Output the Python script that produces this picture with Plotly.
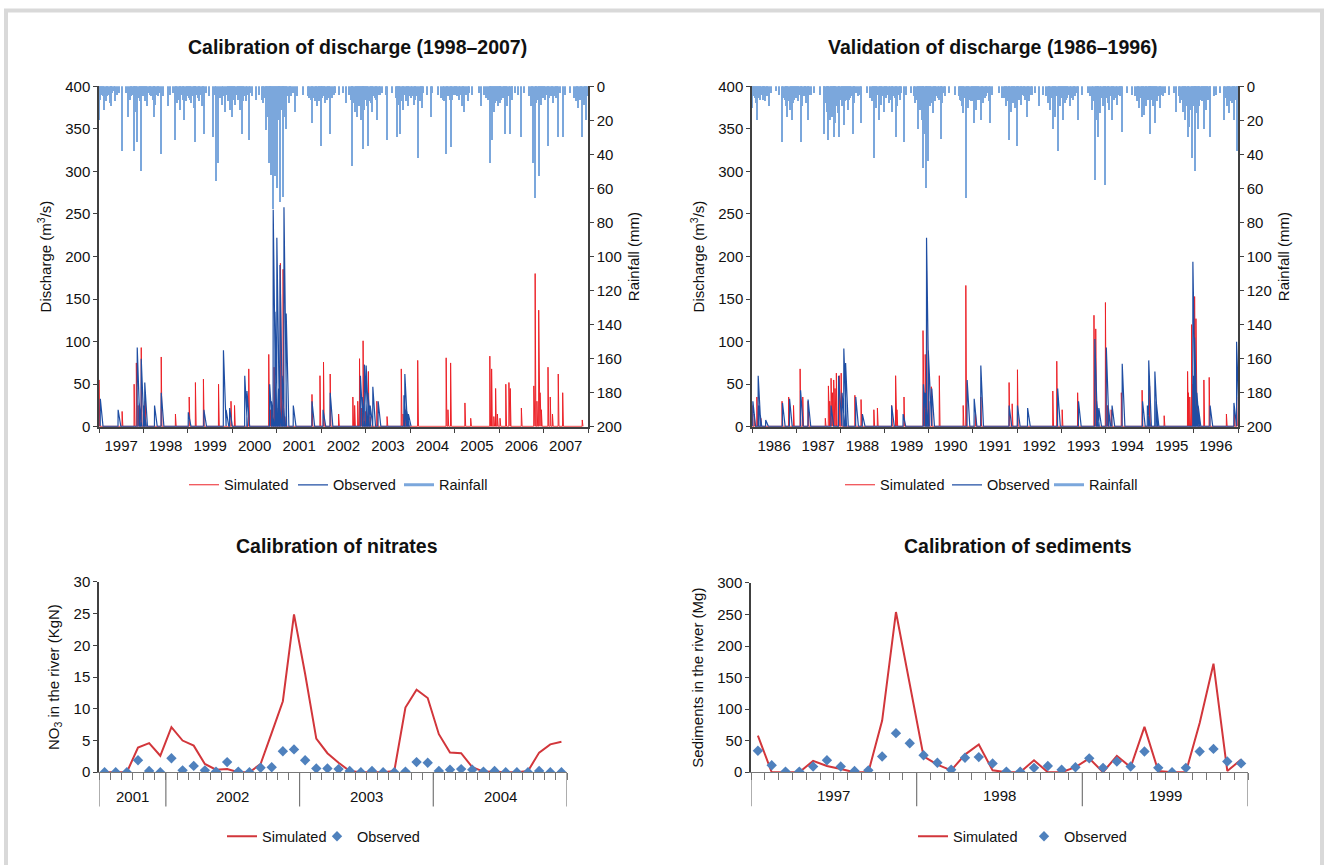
import pandas as pd
import plotly.graph_objects as go

# ---------------- DATA ----------------
# Calibration of discharge (decimal year, m3/s)
cal_obs_year = [1997.03, 1997.43, 1997.86, 1997.90, 1997.95, 1998.00, 1998.03, 1998.25, 1998.40, 1999.01,
                1999.36, 1999.80, 1999.86, 1999.94, 2000.28, 2000.33, 2000.84, 2000.88, 2000.92, 2000.96,
                2001.00, 2001.04, 2001.07, 2001.12, 2001.16, 2001.21, 2001.37, 2001.79, 2002.04, 2002.20,
                2002.88, 2002.92, 2002.97, 2003.01, 2003.05, 2003.10, 2003.16, 2003.28, 2003.86, 2003.88,
                2003.92, 2003.96]
cal_obs_q = [33, 20, 93, 30, 80, 25, 52, 25, 40, 17,
             20, 90, 20, 22, 60, 42, 50, 30, 255, 135,
             222, 45, 190, 60, 258, 133, 25, 30, 20, 40,
             60, 35, 73, 72, 40, 25, 47, 30, 37, 62,
             20, 15]
cal_sim_year = [1997.00, 1997.52, 1997.79, 1997.84, 1997.88, 1997.91, 1997.95, 1998.04, 1998.40, 1998.72,
                1999.03, 1999.17, 1999.35, 1999.69, 1999.97, 2000.05, 2000.37, 2000.82, 2000.86, 2000.90,
                2000.94, 2000.98, 2001.03, 2001.08, 2001.11, 2001.14, 2001.18, 2001.79, 2001.97, 2002.05,
                2002.20, 2002.39, 2002.71, 2002.75, 2002.82, 2002.86, 2002.90, 2002.94, 2003.00, 2003.06,
                2003.10, 2003.25, 2003.48, 2003.80, 2003.84, 2003.90, 2004.17, 2004.81, 2004.85, 2004.91,
                2005.23, 2005.36, 2005.79, 2005.83, 2005.88, 2005.92, 2005.96, 2006.02, 2006.15, 2006.22,
                2006.25, 2006.50, 2006.78, 2006.81, 2006.85, 2006.89, 2006.92, 2006.95, 2007.10, 2007.15,
                2007.20, 2007.33, 2007.43, 2007.87]
cal_sim_q = [55, 18, 50, 75, 25, 20, 93, 30, 82, 15,
             35, 52, 56, 50, 30, 25, 68, 85, 20, 25,
             70, 18, 22, 192, 15, 185, 12, 38, 60, 76,
             62, 15, 35, 25, 30, 80, 22, 101, 18, 65,
             12, 30, 12, 68, 15, 20, 78, 81, 20, 75,
             28, 10, 83, 68, 12, 45, 15, 10, 50, 52,
             45, 22, 48, 180, 30, 137, 40, 20, 70, 35,
             15, 62, 40, 8]
# main rain events
cal_rain_year = [1997.00, 1997.26, 1997.52, 1997.65, 1997.79, 1997.86, 1997.94, 1998.23, 1998.40, 1998.55,
                 1998.71, 1998.92, 1999.17, 1999.36, 1999.57, 1999.64, 1999.68, 1999.99, 2000.22, 2000.37,
                 2000.54, 2000.77, 2000.83, 2000.88, 2000.92, 2000.96, 2001.00, 2001.08, 2001.14, 2001.21,
                 2001.42, 2001.79, 2002.00, 2002.20, 2002.55, 2002.69, 2002.80, 2002.94, 2003.06, 2003.25,
                 2003.47, 2003.70, 2003.78, 2004.17, 2004.47, 2004.80, 2004.91, 2005.21, 2005.60, 2005.79,
                 2005.85, 2006.13, 2006.24, 2006.50, 2006.76, 2006.80, 2006.89, 2007.10, 2007.33, 2007.43,
                 2007.87, 2007.96,
                 1997.02, 1997.07, 1997.12, 1997.18, 1997.24, 1997.30, 1997.36, 1997.72, 1997.78, 1997.83, 1997.89, 1997.98,
                 1998.04, 1998.09, 1998.15, 1998.21, 1998.27, 1998.33, 1998.76, 1998.82, 1998.88, 1998.97,
                 1999.03, 1999.08, 1999.14, 1999.19, 1999.25, 1999.31, 1999.77, 1999.84, 1999.90, 1999.95,
                 2000.02, 2000.07, 2000.13, 2000.18, 2000.30, 2000.70, 2000.75, 2000.79, 2000.86, 2000.94,
                 2001.02, 2001.06, 2001.11, 2001.17, 2001.27, 2001.33, 2001.73, 2001.85, 2001.91, 2001.96,
                 2002.03, 2002.09, 2002.15, 2002.28, 2002.70, 2002.75, 2002.85, 2002.89, 2002.97,
                 2003.03, 2003.09, 2003.14, 2003.20, 2003.32, 2003.72, 2003.84, 2003.90, 2003.95,
                 2004.02, 2004.08, 2004.14, 2004.22, 2004.27, 2004.74, 2004.86, 2004.95,
                 2005.03, 2005.09, 2005.16, 2005.29, 2005.71, 2005.82, 2005.88, 2005.93, 2005.97,
                 2006.03, 2006.08, 2006.18, 2006.30, 2006.72, 2006.84, 2006.94, 2006.98,
                 2007.04, 2007.16, 2007.22, 2007.28, 2007.72, 2007.78, 2007.84, 2007.91]
cal_rain_mm = [20, 12, 38, 18, 38, 33, 50, 18, 40, 12,
               32, 20, 33, 28, 30, 56, 45, 18, 28, 32,
               8, 26, 45, 52, 72, 53, 60, 68, 65, 25,
               15, 22, 35, 28, 10, 47, 18, 37, 28, 20,
               32, 30, 28, 37, 18, 40, 36, 15, 12, 45,
               32, 28, 28, 30, 45, 66, 53, 35, 30, 30,
               25, 20,
               8, 5, 14, 6, 10, 4, 9, 6, 12, 15, 7, 6,
               9, 12, 5, 8, 11, 6, 10, 14, 8, 6,
               7, 10, 13, 5, 9, 12, 11, 15, 9, 14,
               6, 11, 8, 14, 9, 10, 14, 18, 22, 24,
               15, 20, 12, 18, 10, 6, 7, 9, 12, 8,
               6, 10, 7, 5, 9, 15, 12, 20, 14,
               12, 9, 15, 7, 5, 11, 14, 9, 12,
               7, 11, 6, 9, 13, 8, 6, 8,
               5, 8, 12, 9, 7, 10, 15, 9, 12,
               10, 7, 12, 8, 12, 10, 11, 7,
               8, 6, 10, 7, 9, 13, 7, 11]
# light rain days
cal_light_year = [1997.05, 1997.10, 1997.15, 1997.21, 1997.27, 1997.33, 1997.40, 1997.46, 1997.60, 1997.69, 1997.75, 1997.81, 1997.92, 1997.96,
                  1998.01, 1998.06, 1998.12, 1998.18, 1998.24, 1998.30, 1998.36, 1998.45, 1998.60, 1998.66, 1998.74, 1998.79, 1998.85, 1998.90, 1998.95,
                  1999.01, 1999.05, 1999.11, 1999.16, 1999.22, 1999.28, 1999.34, 1999.40, 1999.48, 1999.62, 1999.72, 1999.80, 1999.87, 1999.92, 1999.97,
                  2000.04, 2000.10, 2000.15, 2000.20, 2000.25, 2000.27, 2000.33, 2000.40, 2000.45, 2000.60, 2000.66, 2000.72, 2000.81, 2000.85, 2000.90, 2000.98,
                  2001.04, 2001.09, 2001.13, 2001.19, 2001.24, 2001.30, 2001.36, 2001.45, 2001.60, 2001.70, 2001.76, 2001.82, 2001.88, 2001.94, 2001.99,
                  2002.01, 2002.06, 2002.12, 2002.18, 2002.25, 2002.31, 2002.40, 2002.48, 2002.62, 2002.67, 2002.72, 2002.78, 2002.83, 2002.87, 2002.91, 2002.95, 2002.99,
                  2003.01, 2003.06, 2003.11, 2003.17, 2003.23, 2003.29, 2003.36, 2003.45, 2003.60, 2003.68, 2003.75, 2003.81, 2003.87, 2003.93, 2003.98,
                  2004.05, 2004.11, 2004.17, 2004.25, 2004.30, 2004.38, 2004.50, 2004.62, 2004.70, 2004.77, 2004.83, 2004.89, 2004.99,
                  2005.01, 2005.06, 2005.12, 2005.19, 2005.25, 2005.32, 2005.40, 2005.55, 2005.65, 2005.74, 2005.80, 2005.86, 2005.90, 2005.95, 2005.99,
                  2006.01, 2006.05, 2006.11, 2006.16, 2006.22, 2006.28, 2006.35, 2006.42, 2006.55, 2006.68, 2006.74, 2006.82, 2006.87, 2006.92, 2006.96,
                  2007.01, 2007.07, 2007.13, 2007.19, 2007.25, 2007.31, 2007.38, 2007.48, 2007.60, 2007.69, 2007.75, 2007.81, 2007.87, 2007.93, 2007.98]
cal_light_mm = [4, 6, 9, 5, 7, 3, 5, 4, 4, 8, 5, 7, 9, 5,
                5, 7, 4, 6, 9, 5, 4, 6, 5, 4, 6, 8, 5, 7, 9,
                5, 8, 6, 4, 7, 5, 9, 4, 6, 5, 7, 6, 5, 8, 6,
                8, 5, 7, 4, 9, 6, 5, 4, 6, 5, 8, 7, 12, 15, 20, 12,
                10, 14, 8, 9, 6, 5, 4, 6, 5, 6, 8, 7, 6, 9, 5,
                7, 6, 8, 5, 7, 4, 5, 4, 5, 8, 10, 12, 9, 11, 8, 10, 7,
                8, 7, 10, 6, 8, 5, 4, 5, 4, 7, 6, 9, 5, 8, 6,
                6, 8, 5, 7, 4, 5, 4, 5, 7, 9, 6, 8, 5,
                4, 6, 5, 7, 5, 4, 5, 4, 5, 8, 9, 7, 10, 6, 7,
                6, 8, 5, 9, 6, 5, 4, 5, 4, 6, 9, 10, 8, 7, 6,
                6, 5, 7, 4, 6, 5, 4, 5, 4, 7, 6, 8, 5, 9, 6]

# Validation of discharge (decimal year, m3/s)
val_obs_year = [1986.02, 1986.14, 1986.16, 1986.31, 1986.69, 1986.85, 1987.10, 1987.27, 1987.79, 1987.96,
                1988.04, 1988.08, 1988.12, 1988.35, 1988.50, 1989.16, 1989.42, 1989.88, 1989.92, 1989.95,
                1989.99, 1990.07, 1990.87, 1991.03, 1991.18, 1991.82, 1992.01, 1992.24, 1992.92, 1993.39,
                1993.76, 1993.80, 1993.85, 1994.02, 1994.06, 1994.15, 1994.38, 1994.84, 1994.95, 1994.98,
                1995.12, 1995.15, 1995.98, 1996.00, 1996.02, 1996.07, 1996.10, 1996.37, 1996.91, 1996.97]
val_obs_q = [30, 60, 25, 8, 28, 33, 43, 32, 25, 60,
             40, 92, 75, 35, 15, 25, 15, 50, 40, 222,
             90, 45, 55, 33, 72, 25, 25, 22, 45, 30,
             103, 30, 22, 93, 25, 25, 74, 30, 25, 78,
             65, 30, 194, 60, 105, 40, 25, 25, 28, 100]
val_sim_year = [1986.00, 1986.05, 1986.11, 1986.20, 1986.68, 1986.83, 1986.94, 1987.09, 1987.15, 1987.27,
                1987.66, 1987.73, 1987.76, 1987.79, 1987.82, 1987.85, 1987.88, 1987.91, 1987.98, 1988.02,
                1988.33, 1988.47, 1988.76, 1988.84, 1989.16, 1989.25, 1989.28, 1989.44, 1989.87, 1989.90,
                1989.92, 1989.95, 1990.00, 1990.06, 1990.24, 1990.78, 1990.84, 1991.06, 1991.18, 1991.82,
                1991.89, 1992.01, 1992.81, 1992.90, 1993.02, 1993.37, 1993.74, 1993.78, 1993.80, 1994.00,
                1994.05, 1994.13, 1994.36, 1994.83, 1995.00, 1995.33, 1995.86, 1995.88, 1995.91, 1995.95,
                1995.98, 1996.02, 1996.05, 1996.08, 1996.23, 1996.35, 1996.74, 1996.92, 1996.97]
val_sim_q = [25, 15, 35, 10, 30, 35, 25, 68, 35, 30,
             10, 48, 30, 57, 40, 55, 45, 63, 60, 63,
             37, 32, 20, 22, 25, 60, 20, 35, 113, 40,
             85, 183, 30, 47, 60, 25, 166, 15, 35, 52,
             27, 67, 42, 77, 20, 40, 131, 115, 30, 146,
             25, 20, 40, 43, 48, 13, 65, 40, 35, 120,
             50, 153, 127, 30, 55, 58, 15, 20, 35]
val_rain_year = [1986.00, 1986.11, 1986.25, 1986.39, 1986.68, 1986.80, 1986.90, 1987.10, 1987.27, 1987.64,
                 1987.73, 1987.85, 1987.98, 1988.08, 1988.28, 1988.47, 1988.77, 1988.87, 1988.98, 1989.16,
                 1989.25, 1989.44, 1989.76, 1989.87, 1989.95, 1989.99, 1990.27, 1990.78, 1990.84, 1991.03,
                 1991.19, 1991.40, 1991.82, 1992.01, 1992.23, 1992.49, 1992.81, 1992.93, 1993.04, 1993.39,
                 1993.76, 1993.83, 1994.00, 1994.15, 1994.38, 1994.83, 1995.00, 1995.12, 1995.61, 1995.86,
                 1995.95, 1996.02, 1996.09, 1996.23, 1996.37, 1996.69, 1996.92, 1996.97,
                 1986.05, 1986.09, 1986.16, 1986.21, 1986.30, 1986.35, 1986.74, 1986.78, 1986.85, 1986.93, 1986.97,
                 1987.04, 1987.14, 1987.19, 1987.23, 1987.33, 1987.70, 1987.76, 1987.81, 1987.88, 1987.94,
                 1988.04, 1988.12, 1988.17, 1988.22, 1988.32, 1988.40, 1988.72, 1988.81, 1988.92,
                 1989.03, 1989.09, 1989.20, 1989.29, 1989.35, 1989.70, 1989.80, 1989.84, 1989.90, 1989.97,
                 1990.03, 1990.10, 1990.14, 1990.20, 1990.31, 1990.38, 1990.72, 1990.76, 1990.88, 1990.95,
                 1991.07, 1991.12, 1991.23, 1991.30, 1991.36, 1991.70, 1991.75, 1991.86, 1991.90, 1991.96,
                 1992.05, 1992.10, 1992.16, 1992.28, 1992.35, 1992.70, 1992.75, 1992.86, 1992.97,
                 1993.08, 1993.13, 1993.20, 1993.26, 1993.32, 1993.70, 1993.80, 1993.88, 1993.94,
                 1994.05, 1994.09, 1994.20, 1994.27, 1994.33, 1994.71, 1994.76, 1994.88, 1994.93,
                 1995.04, 1995.08, 1995.17, 1995.24, 1995.30, 1995.70, 1995.76, 1995.80, 1995.90,
                 1996.05, 1996.13, 1996.18, 1996.28, 1996.32, 1996.45, 1996.75, 1996.80, 1996.86]
val_rain_mm = [13, 20, 8, 12, 33, 18, 20, 33, 20, 28,
               32, 30, 30, 23, 28, 22, 42, 20, 15, 15,
               30, 33, 25, 48, 60, 35, 31, 16, 66, 22,
               20, 22, 32, 35, 18, 12, 25, 38, 20, 20,
               55, 30, 58, 20, 27, 18, 28, 22, 15, 30,
               42, 50, 25, 25, 30, 20, 20, 38,
               6, 10, 7, 5, 9, 6, 8, 12, 14, 10, 7,
               9, 12, 6, 10, 5, 15, 20, 18, 22, 16,
               12, 8, 14, 7, 10, 6, 9, 13, 11,
               7, 10, 6, 12, 8, 10, 14, 20, 28, 18,
               12, 16, 9, 7, 10, 6, 8, 12, 13, 9,
               14, 8, 10, 6, 9, 7, 12, 15, 10, 13,
               8, 11, 6, 9, 5, 10, 14, 18, 12,
               10, 7, 12, 8, 6, 14, 20, 16, 12,
               10, 14, 8, 11, 6, 9, 13, 17, 12,
               8, 12, 9, 13, 6, 10, 15, 20, 24,
               16, 12, 9, 14, 8, 6, 12, 16, 10]
val_light_year = [1986.03, 1986.07, 1986.13, 1986.19, 1986.24, 1986.28, 1986.33, 1986.42, 1986.55, 1986.62, 1986.70, 1986.76, 1986.82, 1986.88, 1986.95, 1986.99,
                  1987.02, 1987.07, 1987.11, 1987.17, 1987.21, 1987.26, 1987.30, 1987.40, 1987.55, 1987.62, 1987.67, 1987.72, 1987.79, 1987.83, 1987.86, 1987.91, 1987.96,
                  1988.01, 1988.06, 1988.10, 1988.15, 1988.20, 1988.25, 1988.30, 1988.36, 1988.45, 1988.60, 1988.68, 1988.75, 1988.79, 1988.84, 1988.90, 1988.95,
                  1989.01, 1989.06, 1989.12, 1989.18, 1989.23, 1989.32, 1989.38, 1989.48, 1989.60, 1989.66, 1989.73, 1989.78, 1989.82, 1989.86, 1989.93, 1989.99,
                  1990.01, 1990.06, 1990.12, 1990.17, 1990.23, 1990.28, 1990.34, 1990.45, 1990.60, 1990.68, 1990.74, 1990.81, 1990.86, 1990.91, 1990.98,
                  1991.01, 1991.05, 1991.10, 1991.15, 1991.20, 1991.27, 1991.33, 1991.44, 1991.60, 1991.66, 1991.73, 1991.78, 1991.83, 1991.88, 1991.93, 1991.99,
                  1992.02, 1992.08, 1992.13, 1992.19, 1992.25, 1992.31, 1992.40, 1992.58, 1992.66, 1992.73, 1992.79, 1992.83, 1992.89, 1992.95, 1992.99,
                  1993.02, 1993.06, 1993.11, 1993.16, 1993.23, 1993.29, 1993.36, 1993.46, 1993.60, 1993.66, 1993.73, 1993.78, 1993.84, 1993.91, 1993.97,
                  1994.02, 1994.07, 1994.12, 1994.17, 1994.24, 1994.30, 1994.36, 1994.48, 1994.60, 1994.68, 1994.74, 1994.80, 1994.85, 1994.91, 1994.96, 1994.99,
                  1995.01, 1995.06, 1995.11, 1995.15, 1995.21, 1995.27, 1995.34, 1995.45, 1995.55, 1995.66, 1995.73, 1995.78, 1995.83, 1995.87, 1995.93, 1995.98,
                  1996.01, 1996.03, 1996.08, 1996.11, 1996.16, 1996.21, 1996.25, 1996.30, 1996.38, 1996.50, 1996.60, 1996.70, 1996.77, 1996.83, 1996.89, 1996.94, 1996.99]
val_light_mm = [5, 7, 5, 8, 6, 4, 5, 4, 3, 5, 7, 5, 9, 6, 8, 5,
                7, 5, 8, 6, 4, 7, 5, 4, 5, 8, 10, 12, 9, 14, 10, 12, 9,
                8, 6, 9, 5, 8, 6, 5, 4, 5, 4, 7, 6, 8, 5, 7, 6,
                6, 5, 8, 5, 7, 5, 4, 5, 4, 6, 8, 9, 12, 10, 14, 9,
                8, 10, 7, 6, 8, 5, 4, 4, 5, 6, 9, 7, 6, 8, 7,
                9, 7, 6, 8, 5, 7, 4, 5, 4, 7, 6, 9, 8, 7, 6, 8,
                6, 7, 5, 8, 4, 5, 4, 5, 6, 8, 7, 9, 6, 8, 5,
                7, 6, 8, 5, 7, 5, 4, 5, 4, 6, 9, 8, 10, 7, 9,
                7, 8, 6, 5, 7, 5, 4, 4, 5, 6, 8, 7, 9, 6, 8, 6,
                6, 7, 5, 8, 6, 5, 4, 5, 4, 6, 8, 9, 12, 10, 14, 12,
                10, 8, 9, 7, 8, 6, 7, 5, 4, 5, 4, 7, 8, 9, 6, 8, 10]

# Calibration of nitrates (monthly, Jul 2001 - Dec 2004)
nitrate_months = pd.date_range("2001-07-01", "2004-12-01", freq="MS")
nitrate_sim = [0, 0, 0, 3.9, 4.6, 2.6, 7.1, 5.0, 4.2, 1.3,
               0.4, 0.5, 0.0, 0.0, 1.3, 6.2, 11.2, 24.9, 15.5, 5.3,
               3.0, 1.5, 0.2, 0.0, 0.0, 0.0, 0.2, 10.2, 13.0, 11.7,
               6.0, 3.1, 3.0, 0.8, 0.1, 0.0, 0.0, 0.0, 0.2, 3.1,
               4.4, 4.8]
nitrate_obs = [0, 0, 0, 1.9, 0.2, 0.0, 2.2, 0.3, 1.0, 0.3,
               0.1, 1.6, 0.1, 0.0, 0.7, 0.8, 3.3, 3.6, 1.9, 0.6,
               0.6, 0.5, 0.2, 0.0, 0.2, 0.0, 0.0, 0.1, 1.6, 1.5,
               0.2, 0.4, 0.5, 0.4, 0.1, 0.2, 0.0, 0.0, 0.0, 0.2,
               0.0, 0.0]

# Calibration of sediments (monthly, Jan 1997 - Dec 1999)
sed_months = pd.date_range("1997-01-01", "1999-12-01", freq="MS")
sed_sim = [58, 0, 0, 0, 18, 10, 5, 0, 0, 82,
           254, 140, 25, 12, 3, 28, 44, 3, 0, 0,
           19, 0, 0, 8, 22, 0, 26, 8, 72, 2,
           0, 0, 78, 172, 2, 20]
sed_obs = [34, 11, 1, 1, 9, 19, 9, 2, 3, 25,
           62, 46, 27, 15, 4, 23, 24, 14, 1, 1,
           7, 10, 4, 8, 22, 7, 17, 9, 33, 7,
           0, 7, 33, 37, 17, 14]

# ---------------- STYLE ----------------
FONT = "Liberation Sans Narrow, Arial Narrow, Liberation Sans, Arial, sans-serif"
RED = "#ec2127"
BLUE = "#1f4ea3"
RAIN = "#7ba7dc"
SIM_RED = "#d2363b"
OBS_BLUE = "#4f81bd"
AX = "#404040"
W, H = 1327, 865
# the captured picture maps page y to 0.979*y + 8.8; place items so they land on target pixels
Y_SCALE, Y_OFF = 0.979, 8.8


def dy(y):
    yr = int(y)
    return pd.Timestamp(yr, 1, 1) + pd.Timedelta(days=(y - yr) * 365.25)


def spikes(years, vals, tail_days):
    pts = sorted(zip(years, vals))
    xs, ys = [], []
    for y, v in pts:
        d = dy(y)
        xs += [d - pd.Timedelta(days=1), d, d + pd.Timedelta(days=tail_days)]
        ys += [0.5, v, 0.5]
    return xs, ys


def px_x(a, b):
    return [a / W, b / W]


def py(t):
    return 1 - ((t - Y_OFF) / Y_SCALE) / H


def px_y(top, bottom):
    return [py(bottom), py(top)]


fig = go.Figure()

bar_w = 9 * 86400000

# ---- Top-left: calibration of discharge
fig.add_trace(go.Bar(x=[dy(v) for v in cal_rain_year + cal_light_year], y=cal_rain_mm + cal_light_mm,
                     width=bar_w, marker=dict(color=RAIN, line=dict(width=0)), xaxis="x", yaxis="y2",
                     showlegend=False, name="Rainfall"))
sx, sy = spikes(cal_sim_year, cal_sim_q, 6)
fig.add_trace(go.Scatter(x=sx, y=sy, mode="lines", line=dict(color=RED, width=1),
                         name="Simulated", xaxis="x", yaxis="y", legend="legend"))
ox, oy = spikes(cal_obs_year, cal_obs_q, 22)
fig.add_trace(go.Scatter(x=ox, y=oy, mode="lines", line=dict(color=BLUE, width=1.2),
                         name="Observed", xaxis="x", yaxis="y", legend="legend2"))
fig.add_trace(go.Scatter(x=[None], y=[None], mode="lines", line=dict(color=RAIN, width=3),
                         name="Rainfall", xaxis="x", yaxis="y", legend="legend3"))

# ---- Top-right: validation of discharge
fig.add_trace(go.Bar(x=[dy(v) for v in val_rain_year + val_light_year], y=val_rain_mm + val_light_mm,
                     width=bar_w, marker=dict(color=RAIN, line=dict(width=0)), xaxis="x2", yaxis="y4",
                     showlegend=False, name="Rainfall"))
sx, sy = spikes(val_sim_year, val_sim_q, 6)
fig.add_trace(go.Scatter(x=sx, y=sy, mode="lines", line=dict(color=RED, width=1),
                         name="Simulated", xaxis="x2", yaxis="y3", legend="legend4"))
ox, oy = spikes(val_obs_year, val_obs_q, 22)
fig.add_trace(go.Scatter(x=ox, y=oy, mode="lines", line=dict(color=BLUE, width=1.2),
                         name="Observed", xaxis="x2", yaxis="y3", legend="legend5"))
fig.add_trace(go.Scatter(x=[None], y=[None], mode="lines", line=dict(color=RAIN, width=3),
                         name="Rainfall", xaxis="x2", yaxis="y3", legend="legend6"))

# ---- Bottom-left: nitrates
n_idx = list(range(len(nitrate_months)))
fig.add_trace(go.Scatter(x=n_idx, y=nitrate_sim, mode="lines", line=dict(color=SIM_RED, width=2),
                         name="Simulated", xaxis="x3", yaxis="y5", legend="legend7"))
fig.add_trace(go.Scatter(x=n_idx, y=nitrate_obs, mode="markers",
                         marker=dict(symbol="diamond", size=8, color=OBS_BLUE),
                         name="Observed", xaxis="x3", yaxis="y5", legend="legend8"))

# ---- Bottom-right: sediments
s_idx = list(range(len(sed_months)))
fig.add_trace(go.Scatter(x=s_idx, y=sed_sim, mode="lines", line=dict(color=SIM_RED, width=2),
                         name="Simulated", xaxis="x4", yaxis="y6", legend="legend9"))
fig.add_trace(go.Scatter(x=s_idx, y=sed_obs, mode="markers",
                         marker=dict(symbol="diamond", size=8, color=OBS_BLUE),
                         name="Observed", xaxis="x4", yaxis="y6", legend="legend10"))

tickfont = dict(family=FONT, size=15, color="#111")
titlefont = dict(family=FONT, size=15, color="#111")

def date_axis(dom, start, end, anchor):
    return dict(domain=dom, anchor=anchor, type="date", range=[start, end],
                tick0=start, dtick="M12", tickformat="%Y", ticklabelmode="period",
                ticks="outside", ticklen=4, tickcolor=AX, showline=True, linecolor=AX,
                linewidth=1.5, showgrid=False, zeroline=False, tickfont=tickfont)

def q_axis(dom, anchor):
    return dict(domain=dom, anchor=anchor, range=[0, 400], dtick=50, ticks="outside",
                ticklen=4, tickcolor=AX, showline=True, linecolor=AX, linewidth=1.5,
                showgrid=False, zeroline=False, tickfont=tickfont,
                title=dict(text="Discharge (m<sup>3</sup>/s)", font=titlefont, standoff=10))

def rain_axis(overlay, anchor):
    return dict(overlaying=overlay, anchor=anchor, side="right", range=[200, 0], dtick=20,
                ticks="outside", ticklen=4, tickcolor=AX, showline=True, linecolor=AX,
                linewidth=1.5, showgrid=False, zeroline=False, tickfont=tickfont,
                title=dict(text="Rainfall (mm)", font=titlefont, standoff=8))

def month_axis(dom, n, anchor):
    return dict(domain=dom, anchor=anchor, range=[-0.5, n - 0.5],
                tickvals=[i - 0.5 for i in range(n + 1)], showticklabels=False,
                ticks="outside", ticklen=7, tickcolor="#777", showline=True, linecolor="#777",
                linewidth=1.2, showgrid=False, zeroline=False)

def val_axis(dom, rng, dt, title, anchor):
    return dict(domain=dom, anchor=anchor, range=rng, dtick=dt, ticks="outside", ticklen=4,
                tickcolor=AX, showline=True, linecolor=AX, linewidth=1.5, showgrid=False,
                zeroline=False, tickfont=tickfont,
                title=dict(text=title, font=titlefont, standoff=10))

top_dom = px_y(86, 426)
fig.update_layout(
    width=W, height=H, margin=dict(l=0, r=0, t=0, b=0),
    paper_bgcolor="white", plot_bgcolor="white",
    font=dict(family=FONT, color="#111"),
    bargap=0,
    xaxis=date_axis(px_x(99, 588), "1997-01-01", "2008-01-01", "y"),
    yaxis=q_axis(top_dom, "x"),
    yaxis2=rain_axis("y", "x"),
    xaxis2=date_axis(px_x(752, 1238), "1986-01-01", "1997-01-01", "y3"),
    yaxis3=q_axis(top_dom, "x2"),
    yaxis4=rain_axis("y3", "x2"),
    xaxis3=month_axis(px_x(99, 567), len(nitrate_months), "y5"),
    yaxis5=val_axis(px_y(581, 771), [0, 30], 5, "NO<sub>3</sub> in the river (KgN)", "x3"),
    xaxis4=month_axis(px_x(751, 1248), len(sed_months), "y6"),
    yaxis6=val_axis(px_y(582, 771), [0, 300], 50, "Sediments in the river (Mg)", "x4"),
)

# one legend per entry, placed under each panel (text starts 40 px right of x)
leg_common = dict(orientation="h", font=dict(family=FONT, size=14.5, color="#111"),
                  bgcolor="rgba(0,0,0,0)", yanchor="middle", xanchor="left", itemwidth=30)
legend_pos = {"legend": (184, 484), "legend2": (293, 484), "legend3": (399, 484),
              "legend4": (840, 484), "legend5": (947, 484), "legend6": (1049, 484),
              "legend7": (222, 835), "legend8": (317, 835),
              "legend9": (913, 835), "legend10": (1024, 835)}
fig.update_layout(**{k: dict(leg_common, x=v[0] / W, y=py(v[1])) for k, v in legend_pos.items()})

# Titles
titles = [("Calibration of discharge (1998–2007)", 357, 47),
          ("Validation of discharge (1986–1996)", 992, 47),
          ("Calibration of nitrates", 337, 545),
          ("Calibration of sediments", 1018, 545)]
for t, x, y in titles:
    fig.add_annotation(text="<b>" + t + "</b>", x=x / W, y=py(y), xref="paper", yref="paper",
                       showarrow=False, xanchor="center", yanchor="middle",
                       font=dict(family=FONT, size=19.5, color="#111"))

# Year groups for the monthly axes
def year_groups(months, xref, yref):
    years = [m.year for m in months]
    bounds = [0]
    for i in range(1, len(years)):
        if years[i] != years[i - 1]:
            bounds.append(i)
    bounds.append(len(years))
    for b in bounds:
        fig.add_shape(type="line", xref=xref, yref=yref, x0=b - 0.5, x1=b - 0.5, y0=0, y1=-0.18,
                      line=dict(color="#777", width=1.2))
    for a, b in zip(bounds[:-1], bounds[1:]):
        fig.add_annotation(text=str(years[a]), x=(a + b - 1) / 2, y=-0.125, xref=xref, yref=yref,
                           showarrow=False, yanchor="middle",
                           font=dict(family=FONT, size=15, color="#111"))

year_groups(nitrate_months, "x3", "y5 domain")
year_groups(sed_months, "x4", "y6 domain")

# Outer frame (its bottom edge lies below the picture, as in the reference)
fig.add_shape(type="rect", xref="paper", yref="paper", x0=6 / W, x1=1322 / W, y0=-0.02,
              y1=1 - 1.5 / H, line=dict(color="#d9d9d9", width=4), layer="below")

fig.write_html("out.html", config={"displayModeBar": False},
               post_script=("document.body.style.margin='0px';"
                            "document.body.style.overflow='hidden';"
                            "var d=document.getElementById('{plot_id}');"
                            "d.style.position='fixed';d.style.left='0px';d.style.top='0px';"))
